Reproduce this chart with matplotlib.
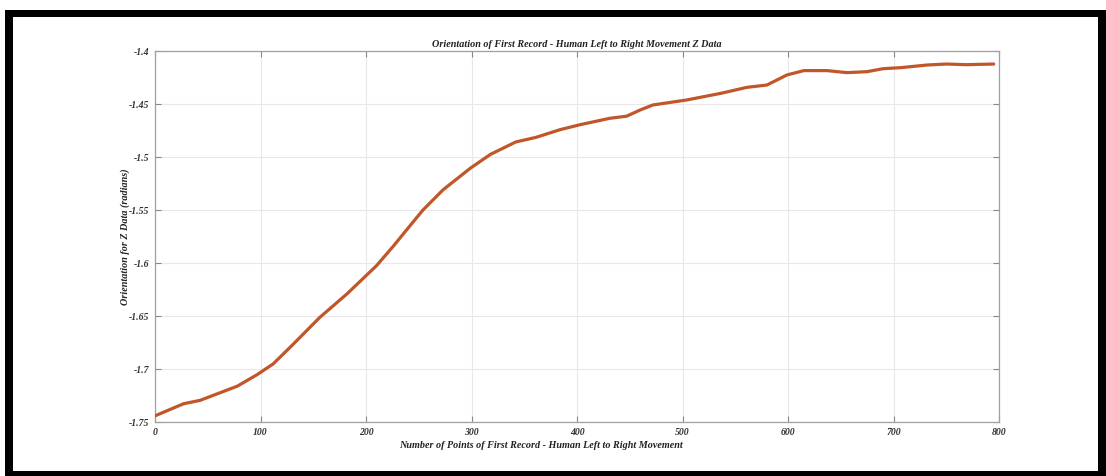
import matplotlib
matplotlib.use("Agg")
import matplotlib.pyplot as plt
from matplotlib.patches import Rectangle

# Data
x_points = [0, 27, 43, 58, 78, 97, 112, 130, 156, 182, 210, 226, 235, 254, 273, 299,
            318, 342, 361, 384, 403, 431, 447, 460, 472, 504, 536, 561, 580, 599,
            615, 637, 656, 675, 690, 707, 732, 750, 769, 795]
y_points = [-1.7442, -1.7328, -1.7295, -1.7238, -1.7162, -1.7052, -1.6952, -1.6776,
            -1.6515, -1.6291, -1.6025, -1.5840, -1.5730, -1.5500, -1.5310, -1.5105,
            -1.4975, -1.4858, -1.4815, -1.4742, -1.4695, -1.4635, -1.4615, -1.4556,
            -1.4509, -1.4462, -1.4400, -1.4343, -1.4321, -1.4226, -1.4185, -1.4185,
            -1.4204, -1.4195, -1.4167, -1.4157, -1.4132, -1.4123, -1.4129, -1.4123]

x_ticks = [0, 100, 200, 300, 400, 500, 600, 700, 800]
x_ticklabels = ["0", "100", "200", "300", "400", "500", "600", "700", "800"]
y_ticks = [-1.75, -1.7, -1.65, -1.6, -1.55, -1.5, -1.45, -1.4]
y_ticklabels = ["-1.75", "-1.7", "-1.65", "-1.6", "-1.55", "-1.5", "-1.45", "-1.4"]

title = "Orientation of First Record - Human Left to Right Movement Z Data"
xlabel = "Number of Points of First Record - Human Left to Right Movement"
ylabel = "Orientation for Z Data (radians)"

W, H = 1106, 476
fig = plt.figure(figsize=(W / 100, H / 100), dpi=100)
fig.patch.set_facecolor("white")

# black frame
fig.patches.append(Rectangle((5 / W, 0), 1 - 5 / W, 1 - 10 / H, transform=fig.transFigure,
                             facecolor="black", edgecolor="none", zorder=-5))
fig.patches.append(Rectangle((13 / W, 5.3 / H), (1097.7 - 13) / W, (470.7 - 17.3) / H,
                             transform=fig.transFigure, facecolor="white", edgecolor="none", zorder=-4))

ax = fig.add_axes([155 / W, 1 - 422 / H, (999 - 155) / W, (422 - 51) / H])
ax.set_facecolor("white")
ax.set_zorder(1)

font = dict(family="Liberation Serif", weight="bold", style="italic")

ax.plot(x_points, y_points, color="#C0562A", lw=2.3, solid_capstyle="round",
        solid_joinstyle="round", zorder=3)

ax.set_xlim(0, 800)
ax.set_ylim(-1.75, -1.4)
ax.set_xticks(x_ticks)
ax.set_xticklabels(x_ticklabels, **font, fontsize=7, color="#333333")
ax.set_yticks(y_ticks)
ax.set_yticklabels(y_ticklabels, **font, fontsize=7, color="#333333")
ax.tick_params(direction="in", length=4, width=0.8, color="#888888", top=True, right=True, pad=4)
ax.grid(True, color="#e8e8e8", lw=0.8)
ax.set_axisbelow(True)
for s in ax.spines.values():
    s.set_color("#a0a0a0")
    s.set_linewidth(0.9)

ax.set_title(title, **font, fontsize=7.3, color="#222222", pad=3)
ax.text((541 - 155) / 844, (422 - 445) / 371, xlabel, transform=ax.transAxes,
        ha="center", va="center", **font, fontsize=7.3, color="#222222")
ax.text((125 - 155) / 844, 0.5, ylabel, transform=ax.transAxes, rotation=90,
        ha="center", va="center", **font, fontsize=7.3, color="#222222")

fig.savefig("out.png", dpi=100)
